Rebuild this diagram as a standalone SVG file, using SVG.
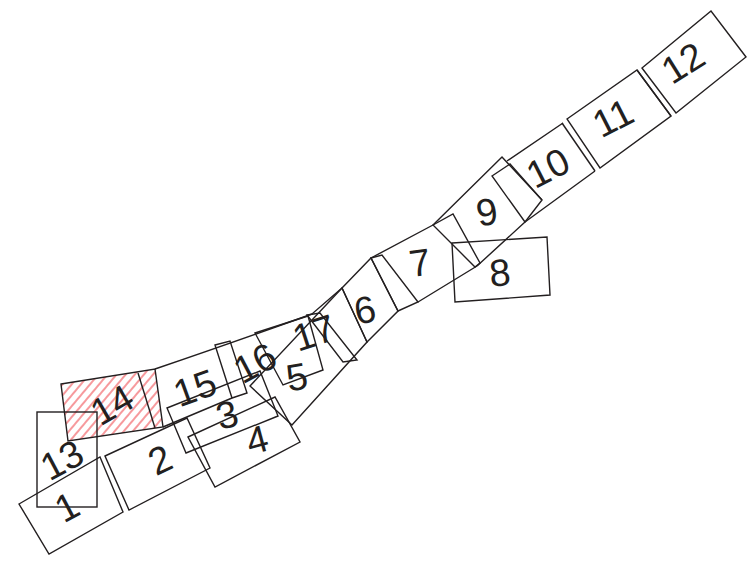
<svg xmlns="http://www.w3.org/2000/svg" width="747" height="563" viewBox="0 0 747 563">
<defs>
<pattern id="hatch" width="7" height="7" patternUnits="userSpaceOnUse" patternTransform="rotate(40)">
<line x1="1" y1="-1" x2="1" y2="8" stroke="#ec1c24" stroke-width="0.9"/>
</pattern>
<style>
.b{fill:none;stroke:#231f20;stroke-width:1.4;stroke-linejoin:miter}
.t{font-family:"Liberation Sans",Arial,sans-serif;font-size:38px;fill:#231f20;text-anchor:middle}
</style>
</defs>
<rect width="747" height="563" fill="#fff"/>
<g id="n14">
<polygon points="61,384 155,369 163,427 68,441" fill="url(#hatch)" stroke="none"/>
<polygon class="b" points="61,384 155,369 163,427 68,441"/>
<line class="b" x1="138" y1="373" x2="155" y2="428"/>
<text class="t" x="112" y="418" transform="rotate(-30 112 405)">14</text>
</g>
<g id="n13">
<rect class="b" x="37" y="412" width="60" height="95"/>
<text class="t" x="62" y="473" transform="rotate(-28 62 460)">13</text>
</g>
<g id="n1">
<polygon class="b" points="19,504 100,457 123,512 49,554"/>
<text class="t" x="67" y="520" transform="rotate(-28 67 507)">1</text>
</g>
<g id="n2">
<polygon class="b" points="105,456 187,418 210,468 129,510"/>
<text class="t" x="160" y="473" transform="rotate(-25 160 460)">2</text>
</g>
<g id="n15">
<path class="b" d="M155,369 Q240,340 312,314 L342,288"/>
<line class="b" x1="163" y1="427" x2="232" y2="398"/>
<text class="t" x="195" y="401" transform="rotate(-20 195 388)">15</text>
</g>
<g id="n3">
<polygon class="b" points="167,408 260,371 278,416 186,453"/>
<text class="t" x="227" y="428" transform="rotate(-15 227 415)">3</text>
</g>
<g id="n4">
<polygon class="b" points="188,437 275,397 300,442 215,487"/>
<text class="t" x="257" y="453" transform="rotate(-15 257 440)">4</text>
</g>
<g id="n16">
<polygon class="b" points="215,345 230,341 247,393 232,398"/>
<text class="t" x="255" y="376" transform="rotate(-28 255 363)">16</text>
</g>
<g id="n17">
<polygon class="b" points="255,333 308,316 323,370 283,385"/>
<polygon class="b" points="307,315 320,313 357,360 343,362"/>
<text class="t" x="314" y="346" transform="rotate(-18 314 333)">17</text>
</g>
<g id="n5">
<polygon class="b" points="250,386 342,288 367,342 292,425"/>
<text class="t" x="297" y="390" transform="rotate(-10 297 377)">5</text>
</g>
<g id="n6">
<polygon class="b" points="342,288 371,258 398,311 367,342"/>
<text class="t" x="365" y="323" transform="rotate(-12 365 310)">6</text>
</g>
<g id="n7">
<polygon class="b" points="371,258 382,255 418,302 398,311"/>
<path class="b" d="M371,258 L433,225 M418,302 L477,266"/>
<text class="t" x="420" y="276" transform="rotate(-8 420 263)">7</text>
</g>
<g id="n8">
<polygon class="b" points="452,243 547,237 550,295 455,302"/>
<text class="t" x="500" y="286" transform="rotate(-5 500 273)">8</text>
</g>
<g id="n9">
<polygon class="b" points="433,225 453,214 480,263 475,267"/>
<path class="b" d="M433,225 L502,157 L542,200 M477,266 L525,222"/>
<text class="t" x="487" y="225" transform="rotate(-10 487 212)">9</text>
</g>
<g id="n10">
<polygon class="b" points="492,176 510,164 542,200 525,222"/>
<path class="b" d="M507,161 L563,123 M525,222 L595,171"/>
<text class="t" x="548" y="181" transform="rotate(-27 548 168)">10</text>
</g>
<g id="n11">
<polygon class="b" points="567,119 637,70 671,116 600,168"/>
<line class="b" x1="562" y1="123" x2="595" y2="171"/>
<text class="t" x="613" y="131" transform="rotate(-27 613 118)">11</text>
</g>
<g id="n12">
<polygon class="b" points="642,68 711,11 746,57 676,113"/>
<line class="b" x1="637" y1="70" x2="671" y2="116"/>
<text class="t" x="683" y="76" transform="rotate(-32 683 63)">12</text>
</g>
<g id="connectors"></g>
</svg>
